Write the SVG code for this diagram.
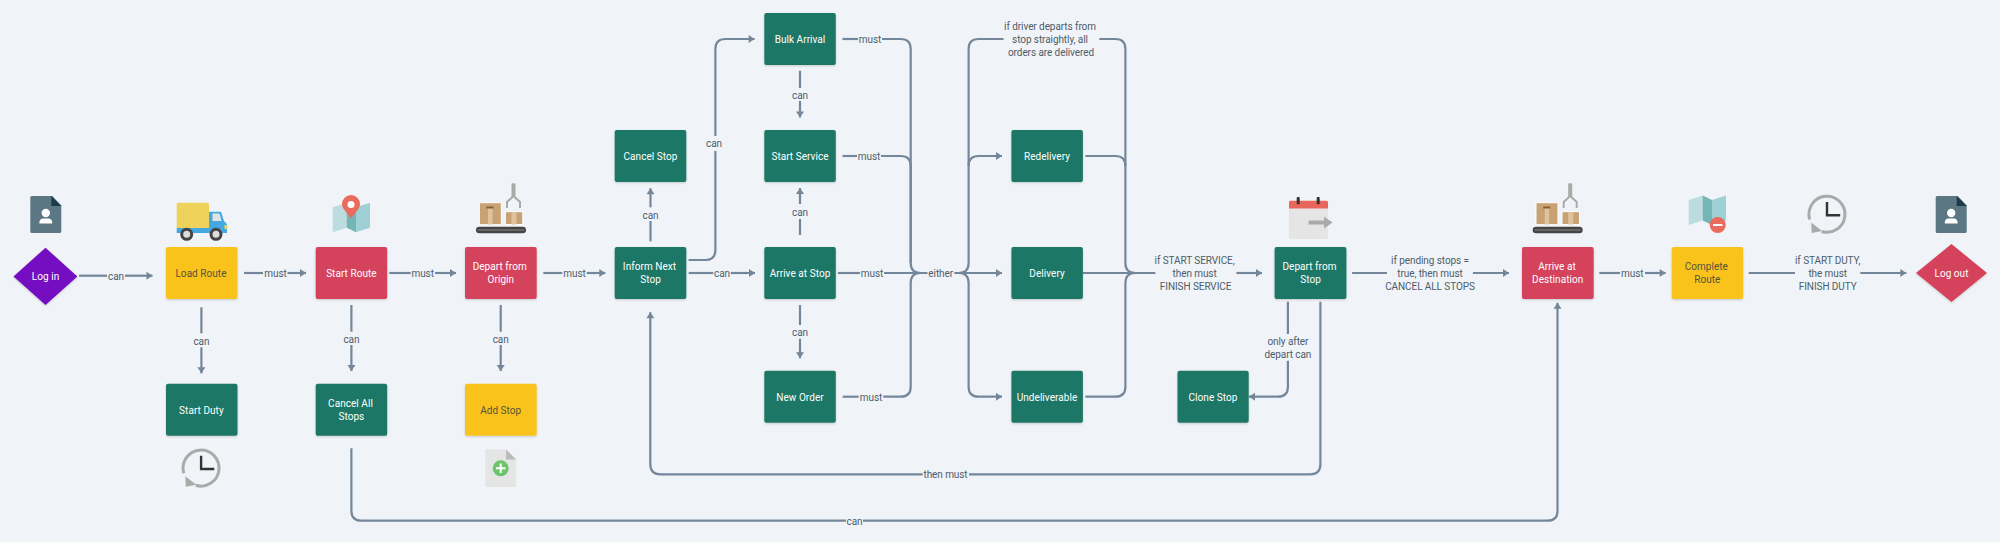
<svg xmlns="http://www.w3.org/2000/svg" xmlns:xlink="http://www.w3.org/1999/xlink" width="2000" height="542" viewBox="0 0 2000 542">
<style>
text{font-family:"Roboto","Liberation Sans",sans-serif;font-size:10px;text-anchor:middle;letter-spacing:-.08px}
.n{filter:url(#sh)}
.g{fill:#1f7766}.r{fill:#d4435b}.y{fill:#f9c31f}.p{fill:#7510c0}
.w{fill:#fff;letter-spacing:.05px}.d{fill:#55533a;letter-spacing:.05px}
.l{fill:#4e5c6a}
.c{fill:none;stroke:#74879a;stroke-width:2.2}
.a{marker-end:url(#ah)}
</style>
<defs>
<filter id="sh" x="-10%" y="-10%" width="120%" height="125%"><feDropShadow dx="0" dy="1" stdDeviation="1" flood-color="#000" flood-opacity=".18"/></filter>
<marker id="ah" viewBox="0 0 8 9" refX="7" refY="4.5" markerWidth="8" markerHeight="9" markerUnits="userSpaceOnUse" orient="auto"><path d="M1,.5 L7,4.5 L1,8.5 z" fill="#74879a"/></marker>
<g id="userfile">
<path d="M1.5,0 H22 L31,9.5 V35.5 Q31,37 29.5,37 H1.5 Q0,37 0,35.5 V1.5 Q0,0 1.5,0z" fill="#5a7783"/>
<path d="M21,0 L31,10 H21z" fill="#1c3a4a"/>
<circle cx="15.5" cy="17" r="4.2" fill="#fff"/>
<path d="M9,27.5 Q9,22.5 13,22.5 H18 Q22,22.5 22,27.5z" fill="#fff"/>
</g>
<g id="conveyor">
<rect x="479.3" y="202.7" width="22" height="22" fill="#c8a274" stroke="#fff" stroke-width="1"/>
<rect x="488" y="208" width="4.5" height="16.5" fill="#e0c39c"/>
<rect x="486.5" y="206.5" width="7" height="2" fill="#8a5f35"/>
<rect x="505.3" y="211.7" width="17.5" height="12.8" fill="#c8a274" stroke="#fff" stroke-width="1"/>
<rect x="511.5" y="212" width="5" height="12.5" fill="#e0c39c"/>
<rect x="476" y="226.7" width="50" height="6.6" rx="3.3" fill="#444"/>
<rect x="478" y="229" width="46" height="2" fill="#666"/>
<path d="M513.5,183.5 V196 L507,202 V208 M513.5,196 L520,202 V208" fill="none" stroke="#aaa" stroke-width="2"/>
<rect x="511.5" y="183.5" width="4" height="13" fill="#aaa"/>
</g>
<g id="clock">
<path d="M-18,5 A18,18 0 1 1 -6,17" fill="none" stroke="#aaa" stroke-width="3"/>
<path d="M-16.5,8 L-16,18.5 L-5.5,16.5z" fill="#aaa"/>
<path d="M-.7,-12.5 V.7 H12.5" fill="none" stroke="#333" stroke-width="2.4"/>
</g>
<g id="map">
<path d="M0,4.6 L14,0 V25 L0,29.6z" fill="#bcdcdf"/>
<path d="M14,0 L23.3,4.6 V29.6 L14,25z" fill="#74b5b5"/>
<path d="M23.3,4.6 L37.3,0 V25 L23.3,29.6z" fill="#9fd0d5"/>
</g>
</defs>
<rect width="2000" height="542" fill="#f0f4f8"/>

<g id="connectors">
<path class="c" d="M79,275.7H107"/><path class="c a" d="M125,275.7H152.5"/><text class="l" x="116" y="279.5">can</text>
<path class="c" d="M244,273H263"/><path class="c a" d="M287.5,273H306"/><text class="l" x="275.5" y="276.8">must</text>
<path class="c" d="M389.3,273H410.7"/><path class="c a" d="M435,273H456"/><text class="l" x="422.7" y="276.8">must</text>
<path class="c" d="M543.3,273H562.3"/><path class="c a" d="M586.7,273H605.3"/><text class="l" x="574.5" y="276.8">must</text>
<path class="c" d="M688.7,273H713.3"/><path class="c a" d="M730.7,273H755"/><text class="l" x="722" y="276.8">can</text>
<path class="c" d="M688.6,260H705.4Q715.4,260 715.4,250V151"/><path class="c a" d="M715.4,136V49Q715.4,39 725.4,39H754.6"/><text class="l" x="714" y="147">can</text>
<path class="c" d="M650.5,241.3V221"/><path class="c a" d="M650.5,207.3V188.3"/><text class="l" x="650.5" y="218.5">can</text>
<path class="c" d="M800,235V219"/><path class="c a" d="M800,204V188"/><text class="l" x="800" y="215.5">can</text>
<path class="c" d="M800,70.7V88"/><path class="c a" d="M800,101V117.5"/><text class="l" x="800" y="98.5">can</text>
<path class="c" d="M800,305V325"/><path class="c a" d="M800,338.7V358.3"/><text class="l" x="800" y="335.8">can</text>
<path class="c" d="M842.5,39H858"/><path class="c" d="M882,39H900.7Q910.7,39 910.7,49V263Q910.7,273 920.7,273"/><text class="l" x="870" y="42.8">must</text>
<path class="c" d="M842.5,156H857"/><path class="c" d="M881,156H900.7Q910.7,156 910.7,166V263"/><text class="l" x="869" y="159.8">must</text>
<path class="c" d="M837.9,273H860"/><path class="c" d="M884,273H927.5"/><text class="l" x="872" y="276.8">must</text>
<path class="c" d="M842.7,396.7H858.7"/><path class="c" d="M883.3,396.7H900.7Q910.7,396.7 910.7,386.7V283Q910.7,273 920.7,273"/><text class="l" x="871" y="400.5">must</text>
<text class="l" x="940.7" y="276.8">either</text>
<path class="c a" d="M954.6,273H1002"/>
<path class="c" d="M954.6,273H958.6Q968.6,273 968.6,263V49Q968.6,39 978.6,39H1003.6"/>
<path class="c a" d="M968.6,166Q968.6,156 978.6,156H1002"/>
<path class="c a" d="M958.6,273Q968.6,273 968.6,283V386.7Q968.6,396.7 978.6,396.7H1002"/>
<text class="l" y="29.5"><tspan x="1050">if driver departs from</tspan><tspan x="1050" dy="13">stop straightly, all</tspan><tspan x="1051" dy="13">orders are delivered</tspan></text>
<path class="c" d="M1099.3,39H1115.4Q1125.4,39 1125.4,49V263Q1125.4,273 1135.4,273"/>
<path class="c" d="M1085.4,156H1115.4Q1125.4,156 1125.4,166"/>
<path class="c" d="M1085.4,396.7H1115.4Q1125.4,396.7 1125.4,386.7V283Q1125.4,273 1135.4,273"/>
<path class="c" d="M1083,273H1155.4"/>
<text class="l" y="263.8"><tspan x="1194.6">if START SERVICE,</tspan><tspan x="1194.6" dy="13">then must</tspan><tspan x="1195.6" dy="13">FINISH SERVICE</tspan></text>
<path class="c a" d="M1236.4,273H1262"/>
<path class="c" d="M1352.1,273H1387"/><path class="c a" d="M1472.9,273H1509"/>
<text class="l" y="263.8"><tspan x="1430">if pending stops =</tspan><tspan x="1430" dy="13">true, then must</tspan><tspan x="1430" dy="13">CANCEL ALL STOPS</tspan></text>
<path class="c" d="M1287.9,301.7V334"/><path class="c a" d="M1287.9,360.7V386.7Q1287.9,396.7 1277.9,396.7H1249"/>
<text class="l" y="344.8"><tspan x="1287.9">only after</tspan><tspan x="1287.9" dy="13">depart can</tspan></text>
<path class="c" d="M1320.4,301.7V464.3Q1320.4,474.3 1310.4,474.3H969"/><path class="c a" d="M922.7,474.3H660.3Q650.3,474.3 650.3,464.3V312.3"/><text class="l" x="945.5" y="478.1">then must</text>
<path class="c" d="M201.4,307.3V333.3"/><path class="c a" d="M201.4,347.3V373.3"/><text class="l" x="201.4" y="344.5">can</text>
<path class="c" d="M351.4,305V331.7"/><path class="c a" d="M351.4,345V371"/><text class="l" x="351.4" y="342.5">can</text>
<path class="c" d="M500.7,305V331.7"/><path class="c a" d="M500.7,345V371"/><text class="l" x="500.7" y="342.5">can</text>
<path class="c" d="M351.4,448.3V510.7Q351.4,520.7 361.4,520.7H846"/><path class="c a" d="M863,520.7H1547.5Q1557.5,520.7 1557.5,510.7V302.7"/><text class="l" x="854.6" y="524.5">can</text>
<path class="c" d="M1599.3,273H1620"/><path class="c a" d="M1645,273H1665.7"/><text class="l" x="1632.3" y="276.8">must</text>
<path class="c" d="M1748.7,273H1795"/><path class="c a" d="M1860.3,273H1906.3"/>
<text class="l" y="263.8"><tspan x="1827.7">if START DUTY,</tspan><tspan x="1827.7" dy="13">the must</tspan><tspan x="1827.7" dy="13">FINISH DUTY</tspan></text>
</g>

<g id="log-in">
<use xlink:href="#userfile" href="#userfile" transform="translate(30.3,196)"/>
<path class="n p" d="M45.5,247.7L77.4,276.5L45.5,305L13.5,276.5z"/>
<text class="w" x="45.5" y="280.3">Log in</text>
</g>
<g id="load-route">
<rect x="176.7" y="202.7" width="32.3" height="26" rx="1.5" fill="#efd25a"/>
<path d="M209,211.7H221L224,221L227,224V228.5H209z" fill="#44a9e0"/>
<rect x="176.7" y="228" width="50.3" height="5" fill="#44a9e0"/>
<path d="M212.5,213.5H219.5L221.5,221H212.5z" fill="#e4e4e4"/>
<rect x="224.5" y="225" width="3" height="4" fill="#efd25a"/>
<circle cx="186.7" cy="234.3" r="5" fill="#ddd" stroke="#444" stroke-width="3"/>
<circle cx="216" cy="234.3" r="5" fill="#ddd" stroke="#444" stroke-width="3"/>
<rect class="n y" x="166" y="247" width="71.5" height="52" rx="2"/>
<text class="d" x="201" y="276.8">Load Route</text>
</g>
<g id="start-route">
<use xlink:href="#map" href="#map" transform="translate(332.7,202.7)"/>
<path d="M351,218.5L343,208Q342,206 342,204A9,9 0 0 1 360,204Q360,206 359,208z" fill="#ea6a5c"/>
<circle cx="351" cy="204.5" r="3.5" fill="#fff"/>
<rect class="n r" x="315.7" y="247" width="71.5" height="52" rx="2"/>
<text class="w" x="351.4" y="276.8">Start Route</text>
</g>
<g id="depart-from-origin">
<use xlink:href="#conveyor" href="#conveyor"/>
<rect class="n r" x="465" y="247" width="71.7" height="52" rx="2"/>
<text class="w" y="270.3"><tspan x="499.7">Depart from</tspan><tspan x="500.9" dy="13">Origin</tspan></text>
</g>
<g id="start-duty">
<rect class="n g" x="166" y="383.7" width="71.5" height="52" rx="2"/>
<text class="w" x="201.4" y="413.5">Start Duty</text>
<use xlink:href="#clock" href="#clock" transform="translate(201.8,468.3)"/>
</g>
<g id="cancel-all-stops">
<rect class="n g" x="315.7" y="383.7" width="71.5" height="52" rx="2"/>
<text class="w" y="407"><tspan x="350.5">Cancel All</tspan><tspan x="351.4" dy="13">Stops</tspan></text>
</g>
<g id="add-stop">
<rect class="n y" x="465" y="383.7" width="71.7" height="52" rx="2"/>
<text class="d" x="500.7" y="413.5">Add Stop</text>
<path d="M485.3,449.3H506L516,459.5V487H485.3z" fill="#e5e5e5"/>
<path d="M506,449.3L516,459.5H506z" fill="#bbb"/>
<circle cx="500.7" cy="468.3" r="8" fill="#6cc46c"/>
<path d="M500.7,463.5V473M496,468.3H505.5" stroke="#fff" stroke-width="2" fill="none"/>
</g>
<g id="inform-next-stop">
<rect class="n g" x="614.7" y="247" width="71.6" height="52" rx="2"/>
<text class="w" y="270.3"><tspan x="649.5">Inform Next</tspan><tspan x="650.5" dy="13">Stop</tspan></text>
</g>
<g id="cancel-stop">
<rect class="n g" x="614.7" y="130" width="71.6" height="52" rx="2"/>
<text class="w" x="650.5" y="159.8">Cancel Stop</text>
</g>
<g id="bulk-arrival">
<rect class="n g" x="764.3" y="13" width="71.5" height="52" rx="2"/>
<text class="w" x="800" y="42.8">Bulk Arrival</text>
</g>
<g id="start-service">
<rect class="n g" x="764.3" y="130" width="71.5" height="52" rx="2"/>
<text class="w" x="800" y="159.8">Start Service</text>
</g>
<g id="arrive-at-stop">
<rect class="n g" x="764.3" y="247" width="71.5" height="52" rx="2"/>
<text class="w" x="800" y="276.8">Arrive at Stop</text>
</g>
<g id="new-order">
<rect class="n g" x="764.3" y="370.7" width="71.5" height="52" rx="2"/>
<text class="w" x="800" y="400.5">New Order</text>
</g>
<g id="redelivery">
<rect class="n g" x="1011.4" y="130" width="71.5" height="52" rx="2"/>
<text class="w" x="1047" y="159.8">Redelivery</text>
</g>
<g id="delivery">
<rect class="n g" x="1011.4" y="247" width="71.5" height="52" rx="2"/>
<text class="w" x="1047" y="276.8">Delivery</text>
</g>
<g id="undeliverable">
<rect class="n g" x="1011.4" y="370.7" width="71.5" height="52" rx="2"/>
<text class="w" x="1047" y="400.5">Undeliverable</text>
</g>
<g id="depart-from-stop">
<rect x="1289" y="200.7" width="39" height="38.3" rx="1.5" fill="#e5e5e5"/>
<path d="M1289,208.6V202.2Q1289,200.7 1290.5,200.7H1326.5Q1328,200.7 1328,202.2V208.6z" fill="#e8675a"/>
<rect x="1296.7" y="197" width="3" height="7.3" rx="1" fill="#333"/>
<rect x="1316.7" y="197" width="3" height="7.3" rx="1" fill="#333"/>
<path d="M1308.6,220.5H1324V216.5L1332.5,222.5L1324,228.5V224.5H1308.6z" fill="#aaa"/>
<rect class="n g" x="1274.6" y="247" width="71.8" height="52" rx="2"/>
<text class="w" y="270.3"><tspan x="1309.5">Depart from</tspan><tspan x="1310.5" dy="13">Stop</tspan></text>
</g>
<g id="clone-stop">
<rect class="n g" x="1177.5" y="370.7" width="71.2" height="52" rx="2"/>
<text class="w" x="1213" y="400.5">Clone Stop</text>
</g>
<g id="arrive-at-destination">
<use xlink:href="#conveyor" href="#conveyor" transform="translate(1056.7,0)"/>
<rect class="n r" x="1522" y="247" width="71.7" height="52" rx="2"/>
<text class="w" y="270.3"><tspan x="1557">Arrive at</tspan><tspan x="1557.7" dy="13">Destination</tspan></text>
</g>
<g id="complete-route">
<use xlink:href="#map" href="#map" transform="translate(1688.7,195.5)"/>
<circle cx="1717.7" cy="225" r="8" fill="#ea6a5c"/>
<path d="M1713,225H1722.5" stroke="#fff" stroke-width="2"/>
<rect class="n y" x="1671.7" y="247" width="71.5" height="52" rx="2"/>
<text class="d" y="270.3"><tspan x="1706.3">Complete</tspan><tspan x="1707.3" dy="13">Route</tspan></text>
</g>
<g id="finish-duty-icon">
<use xlink:href="#clock" href="#clock" transform="translate(1827.7,214.5)"/>
</g>
<g id="log-out">
<use xlink:href="#userfile" href="#userfile" transform="translate(1935.7,196)"/>
<path class="n r" d="M1951.5,244L1987,273L1951.5,302L1916,273z"/>
<text class="w" x="1951.5" y="276.8">Log out</text>
</g>
</svg>
